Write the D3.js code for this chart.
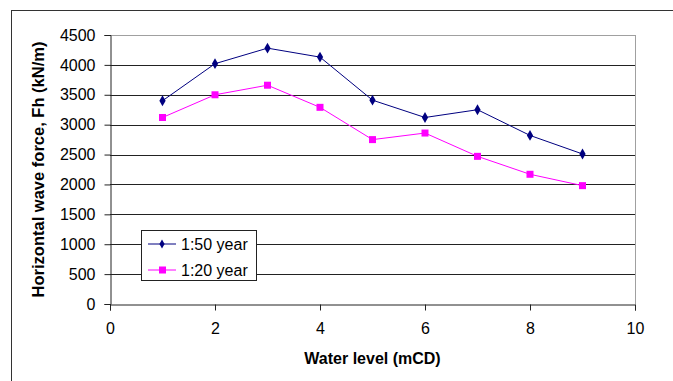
<!DOCTYPE html>
<html><head><meta charset="utf-8">
<script src="https://cdn.jsdelivr.net/npm/d3@7"></script>
<style>body{margin:0;background:#fff;} svg{display:block;font-family:"Liberation Sans",Arial,sans-serif;}</style>
</head><body>
<svg id="c" width="673" height="381"></svg>
<script>
const waterLevel = [1,2,3,4,5,6,7,8,9];
const force50 = [3400,4020,4280,4130,3410,3120,3250,2820,2510];
const force20 = [3120,3500,3660,3290,2750,2860,2470,2170,1980];
const yTicks = [0,500,1000,1500,2000,2500,3000,3500,4000,4500];
const xTicks = [0,2,4,6,8,10];
const seriesNames = ["1:50 year","1:20 year"];
const seriesColors = ["#000080","#ff00ff"];

const svg = d3.select("#c");
const L=110,R=635,T=35,B=304;
const x = d3.scaleLinear().domain([0,10]).range([L,R]);
const y = d3.scaleLinear().domain([0,4500]).range([B,T]);

// outer frame
svg.append("rect").attr("x",11.5).attr("y",10.5).attr("width",700).attr("height",400)
  .attr("fill","none").attr("stroke","#333").attr("stroke-width",1);

// plot area border (gray top/right)
svg.append("line").attr("x1",L).attr("x2",R).attr("y1",T+0.5).attr("y2",T+0.5).attr("stroke","#a0a0a0");
svg.append("line").attr("x1",R+0.5).attr("x2",R+0.5).attr("y1",T).attr("y2",B).attr("stroke","#a0a0a0");

// gridlines
svg.append("g").selectAll("line").data(yTicks.filter(d=>d>0 && d<4500)).join("line")
  .attr("x1",L).attr("x2",R).attr("y1",d=>Math.round(y(d))+0.5).attr("y2",d=>Math.round(y(d))+0.5)
  .attr("stroke","#222").attr("stroke-width",1);

// y axis
const yAxis = svg.append("g").attr("transform",`translate(${L+0.5},0)`)
  .call(d3.axisLeft(y).tickValues(yTicks).tickSize(6).tickPadding(9).tickFormat(d3.format("d")));
yAxis.select(".domain").attr("stroke","#222");
yAxis.selectAll(".tick line").attr("stroke","#222");
yAxis.selectAll("text").attr("font-size",16).attr("fill","#000");

// x axis
const xAxis = svg.append("g").attr("transform",`translate(0,${B+0.5})`)
  .call(d3.axisBottom(x).tickValues(xTicks).tickSize(6).tickPadding(12).tickFormat(d3.format("d")));
xAxis.select(".domain").attr("stroke","#222");
xAxis.selectAll(".tick line").attr("stroke","#222");
xAxis.selectAll("text").attr("font-size",16).attr("fill","#000");

// titles
svg.append("text").attr("x",(L+R)/2).attr("y",364).attr("text-anchor","middle")
  .attr("font-size",16).attr("font-weight","bold").text("Water level (mCD)");
svg.append("text").attr("transform",`translate(44,${(T+B)/2}) rotate(-90)`).attr("text-anchor","middle")
  .attr("font-size",16.5).attr("font-weight","bold").text("Horizontal wave force, Fh (kN/m)");

// lines
const line = d3.line().x((d,i)=>x(waterLevel[i])).y(d=>y(d));
const data = [force50, force20];
data.forEach((s,k)=>{
  svg.append("path").datum(s).attr("d",line).attr("fill","none").attr("stroke",seriesColors[k]).attr("stroke-width",1);
});
// markers
const diamond = d3.symbol().type(d3.symbolDiamond).size(34);
svg.append("g").selectAll("path").data(force50).join("path")
  .attr("transform",(d,i)=>`translate(${x(waterLevel[i])},${y(d)})`).attr("d",diamond()).attr("fill",seriesColors[0]);
svg.append("g").selectAll("rect").data(force20).join("rect")
  .attr("x",(d,i)=>x(waterLevel[i])-3.5).attr("y",d=>y(d)-3.5).attr("width",7).attr("height",7).attr("fill",seriesColors[1]);

// legend
const lg = svg.append("g");
lg.append("rect").attr("x",141.5).attr("y",230.5).attr("width",115).attr("height",50)
  .attr("fill","#fff").attr("stroke","#222");
const ly=[244,270];
seriesNames.forEach((n,k)=>{
  lg.append("line").attr("x1",148).attr("x2",176).attr("y1",ly[k]).attr("y2",ly[k]).attr("stroke",seriesColors[k]);
  if(k===0) lg.append("path").attr("transform",`translate(162,${ly[k]})`).attr("d",d3.symbol().type(d3.symbolDiamond).size(24)()).attr("fill",seriesColors[k]);
  else lg.append("rect").attr("x",159).attr("y",ly[k]-3.5).attr("width",7).attr("height",7).attr("fill",seriesColors[k]);
  lg.append("text").attr("x",181).attr("y",ly[k]+6).attr("font-size",16).text(n);
});
</script>
</body></html>
